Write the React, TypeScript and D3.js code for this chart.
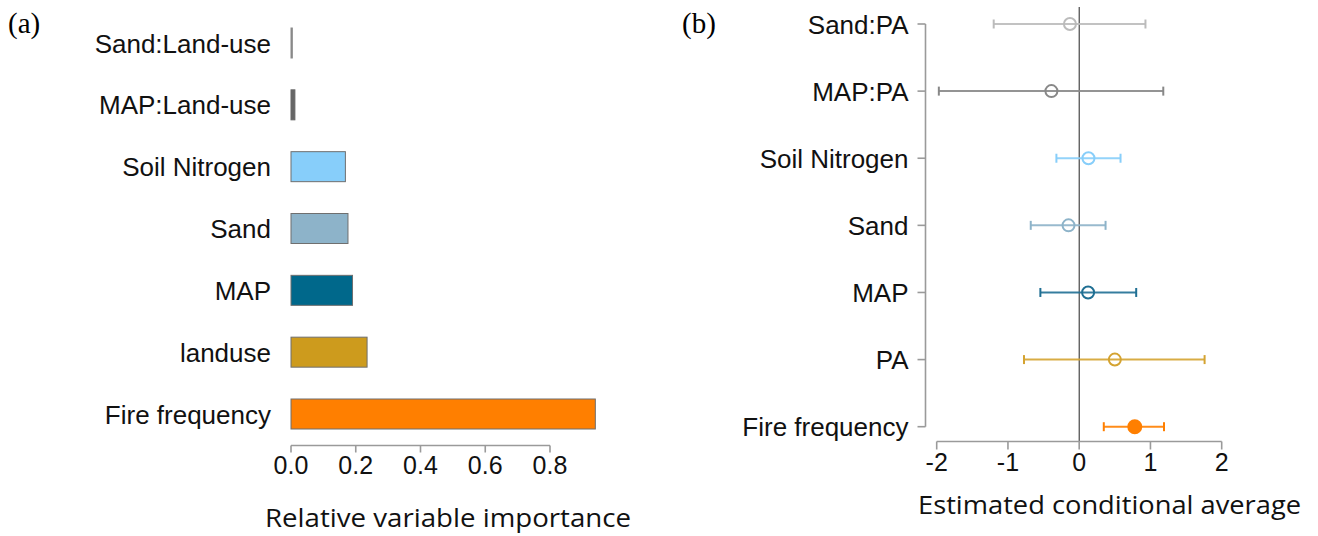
import React from "react";
import * as d3 from "d3";

// Panel (a): relative variable importance
const impCategories = [
  "Sand:Land-use",
  "MAP:Land-use",
  "Soil Nitrogen",
  "Sand",
  "MAP",
  "landuse",
  "Fire frequency",
];
const impValues = [0.004, 0.012, 0.168, 0.176, 0.19, 0.235, 0.94];
const impColors = ["#8a8a8a", "#666666", "#87CEFA", "#8DB3C9", "#00688B", "#CD9B1D", "#FF7F00"];
const impTicks = [0, 0.2, 0.4, 0.6, 0.8];

// Panel (b): estimated conditional average with CI
const estCategories = [
  "Sand:PA",
  "MAP:PA",
  "Soil Nitrogen",
  "Sand",
  "MAP",
  "PA",
  "Fire frequency",
];
const estMean = [-0.13, -0.39, 0.13, -0.15, 0.125, 0.5, 0.78];
const estLow = [-1.2, -1.97, -0.32, -0.68, -0.545, -0.775, 0.345];
const estHigh = [0.93, 1.18, 0.58, 0.37, 0.8, 1.76, 1.19];
const estColors = ["#BBBBBB", "#888888", "#87CEFA", "#8DB3C9", "#1F6F93", "#D4A331", "#FF7F00"];
const estFilled = [false, false, false, false, false, false, true];
const estTicks = [-2, -1, 0, 1, 2];

const LABEL_FONT = "'Liberation Sans', Arial, Helvetica, sans-serif";
const TITLE_FONT = "'Open Sans', 'Noto Sans', sans-serif";

export default function App() {
  // Panel a scales
  const xA = d3.scaleLinear().domain([0, 0.8]).range([291, 550]);
  const yA = d3.scalePoint<string>().domain(impCategories).range([43, 414]);
  const barH = 30;
  const axisAY = 445.5;

  // Panel b scales
  const xB = d3.scaleLinear().domain([-2, 2]).range([936.7, 1221.7]);
  const yB = d3.scalePoint<string>().domain(estCategories).range([24, 426.7]);
  const axisBX = 925.5;
  const axisBY = 441.5;

  return (
    <svg
      width={1318}
      height={536}
      style={{ position: "absolute", left: 0, top: 0, background: "#fff" }}
    >
      <rect x={0} y={0} width={1318} height={536} fill="#fff" />
      {/* Panel labels */}
      <text x={8} y={33} fontFamily="'Liberation Serif', 'Times New Roman', serif" fontSize={29} fill="#000">
        (a)
      </text>
      <text x={682} y={33} fontFamily="'Liberation Serif', 'Times New Roman', serif" fontSize={29} fill="#000">
        (b)
      </text>

      {/* ===== Panel a ===== */}
      {impCategories.map((c, i) => (
        <g key={c}>
          <text
            x={271}
            y={(yA(c) as number) + 9.5}
            textAnchor="end"
            fontFamily={LABEL_FONT}
            fontSize={26}
            fill="#111"
          >
            {c}
          </text>
          <rect
            x={xA(0)}
            y={(yA(c) as number) - barH / 2}
            width={Math.max(xA(impValues[i]) - xA(0), 1)}
            height={barH}
            fill={impColors[i]}
            stroke={i < 2 ? impColors[i] : "#6f6f6f"}
            strokeWidth={1}
          />
        </g>
      ))}
      <line x1={xA(0)} x2={xA(0.8)} y1={axisAY} y2={axisAY} stroke="#9a9a9a" strokeWidth={1.6} />
      {impTicks.map((t) => (
        <g key={t}>
          <line x1={xA(t)} x2={xA(t)} y1={axisAY} y2={axisAY + 7} stroke="#9a9a9a" strokeWidth={1.6} />
          <text
            x={xA(t)}
            y={474}
            textAnchor="middle"
            fontFamily={LABEL_FONT}
            fontSize={25}
            fill="#111"
          >
            {d3.format(".1f")(t)}
          </text>
        </g>
      ))}
      <text
        x={265}
        y={527}
        fontFamily={TITLE_FONT}
        fontSize={26}
        textLength={366}
        lengthAdjust="spacingAndGlyphs"
        fill="#111"
      >
        Relative variable importance
      </text>

      {/* ===== Panel b ===== */}
      <line x1={xB(0)} x2={xB(0)} y1={7} y2={axisBY} stroke="#222" strokeWidth={1} />
      <line
        x1={axisBX}
        x2={axisBX}
        y1={yB(estCategories[0]) as number}
        y2={yB(estCategories[estCategories.length - 1]) as number}
        stroke="#9a9a9a"
        strokeWidth={1.6}
      />
      {estCategories.map((c, i) => {
        const y = yB(c) as number;
        return (
          <g key={c}>
            <line x1={axisBX - 8} x2={axisBX} y1={y} y2={y} stroke="#9a9a9a" strokeWidth={1.6} />
            <text
              x={908.5}
              y={y + 9.5}
              textAnchor="end"
              fontFamily={LABEL_FONT}
              fontSize={26}
              fill="#111"
            >
              {c}
            </text>
            <line
              x1={xB(estLow[i])}
              x2={xB(estHigh[i])}
              y1={y}
              y2={y}
              stroke={estColors[i]}
              strokeWidth={2}
              strokeOpacity={0.9}
            />
            <line x1={xB(estLow[i])} x2={xB(estLow[i])} y1={y - 4.5} y2={y + 4.5} stroke={estColors[i]} strokeWidth={2} />
            <line x1={xB(estHigh[i])} x2={xB(estHigh[i])} y1={y - 4.5} y2={y + 4.5} stroke={estColors[i]} strokeWidth={2} />
            <circle
              cx={xB(estMean[i])}
              cy={y}
              r={estFilled[i] ? 6.5 : 6}
              fill={estFilled[i] ? estColors[i] : "#fff"}
              fillOpacity={estFilled[i] ? 1 : 0}
              stroke={estColors[i]}
              strokeWidth={2}
            />
          </g>
        );
      })}
      <line x1={xB(-2)} x2={xB(2)} y1={axisBY} y2={axisBY} stroke="#9a9a9a" strokeWidth={1.6} />
      {estTicks.map((t) => (
        <g key={t}>
          <line x1={xB(t)} x2={xB(t)} y1={axisBY} y2={axisBY + 8} stroke="#9a9a9a" strokeWidth={1.6} />
          <text
            x={xB(t)}
            y={471}
            textAnchor="middle"
            fontFamily={LABEL_FONT}
            fontSize={25}
            fill="#111"
          >
            {String(t)}
          </text>
        </g>
      ))}
      <text
        x={918}
        y={514}
        fontFamily={TITLE_FONT}
        fontSize={26}
        textLength={383}
        lengthAdjust="spacingAndGlyphs"
        fill="#111"
      >
        Estimated conditional average
      </text>
    </svg>
  );
}
